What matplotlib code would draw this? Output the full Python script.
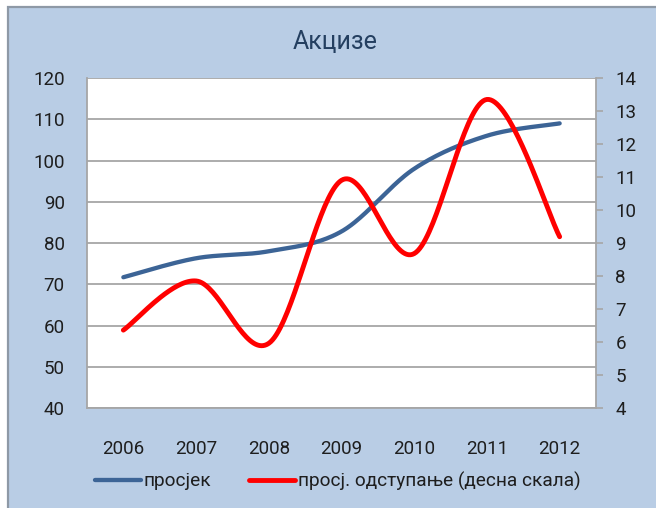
import numpy as np
import matplotlib
matplotlib.use("Agg")
import matplotlib.pyplot as plt
from matplotlib.patches import Rectangle

plt.rcParams['font.family'] = ['Roboto', 'DejaVu Sans']

years = ['2006', '2007', '2008', '2009', '2010', '2011', '2012']
prosjek = [71.7, 76.3, 78.0, 82.8, 98.0, 106.0, 109.0]
odstupanje = [6.36, 7.85, 5.96, 10.9, 8.68, 13.35, 9.19]

title = 'Акцизе'
label_left = 'просјек'
label_right = 'просј. одступање (десна скала)'

BG = '#B9CDE5'
BLUE = '#3C6496'
RED = '#FF0000'
GRID = '#A6A6A6'
TEXT = '#1E1E1E'


def smooth(xs, ys, n=40):
    # Excel-like smoothed line: Bezier segments with Catmull-Rom control points
    p = np.column_stack([xs, ys]).astype(float)
    ext = np.vstack([p[0], p, p[-1]])
    out = []
    for i in range(len(p) - 1):
        p0, p1, p2, p3 = ext[i], ext[i + 1], ext[i + 2], ext[i + 3]
        c1 = p1 + (p2 - p0) / 6.0
        c2 = p2 - (p3 - p1) / 6.0
        t = np.linspace(0, 1, n)[:, None]
        seg = ((1 - t) ** 3) * p1 + 3 * ((1 - t) ** 2) * t * c1 \
            + 3 * (1 - t) * t ** 2 * c2 + t ** 3 * p2
        out.append(seg if i == 0 else seg[1:])
    s = np.vstack(out)
    return s[:, 0], s[:, 1]


W, H = 656, 508
fig = plt.figure(figsize=(W / 100, H / 100), dpi=100)
fig.patch.set_facecolor('white')
frame = Rectangle((8 / W, -0.05), 1.0, 1 - 7 / H + 0.05,
                  transform=fig.transFigure, facecolor=BG,
                  edgecolor='#8E99A6', linewidth=1.6, zorder=-5)
fig.add_artist(frame)

ax = fig.add_axes([87 / W, 1 - 408 / H, (596 - 87) / W, (408 - 78) / H])
ax.set_facecolor('white')
x = np.arange(len(years))

ax.set_xlim(-0.5, len(years) - 0.5)
ax.set_ylim(40, 120)
ax.set_yticks(range(40, 121, 10))
ax.yaxis.grid(True, color=GRID, linewidth=1.3)
ax.set_axisbelow(True)
ax.set_xticks(x)
ax.set_xticklabels(years)
ax.tick_params(axis='x', length=0, pad=23, labelsize=13.5, labelcolor=TEXT)
ax.tick_params(axis='y', length=0, pad=16, labelsize=13.5, labelcolor=TEXT)
for side in ['top', 'right']:
    ax.spines[side].set_visible(False)
for side in ['left', 'bottom']:
    ax.spines[side].set_color(GRID)
    ax.spines[side].set_linewidth(1.3)

bx, by = smooth(x, prosjek)
l1, = ax.plot(bx, by, color=BLUE, linewidth=3.1, solid_capstyle='round',
              label=label_left, zorder=3)

ax2 = ax.twinx()
ax2.set_ylim(4, 14)
ax2.set_yticks(range(4, 15))
ax2.tick_params(axis='y', length=5, width=1.2, color=GRID, pad=9,
                labelsize=13.5, labelcolor=TEXT)
for side in ['top', 'left', 'bottom']:
    ax2.spines[side].set_visible(False)
ax2.spines['right'].set_color(GRID)
ax2.spines['right'].set_linewidth(1.3)

rx, ry = smooth(x, odstupanje)
l2, = ax2.plot(rx, ry, color=RED, linewidth=3.5, solid_capstyle='round',
               label=label_right, zorder=3)

fig.text(335 / W, 1 - 42 / H, title, ha='center', va='center',
         fontsize=18, color='#243F60')

fig.legend(handles=[l1, l2], loc='center', bbox_to_anchor=(338 / W, 1 - 481 / H),
           ncol=2, frameon=False, fontsize=13.7, handlelength=2.4,
           handletextpad=0.15, columnspacing=2.0, labelcolor=TEXT)

fig.savefig('out.png', dpi=100, facecolor=fig.get_facecolor())
